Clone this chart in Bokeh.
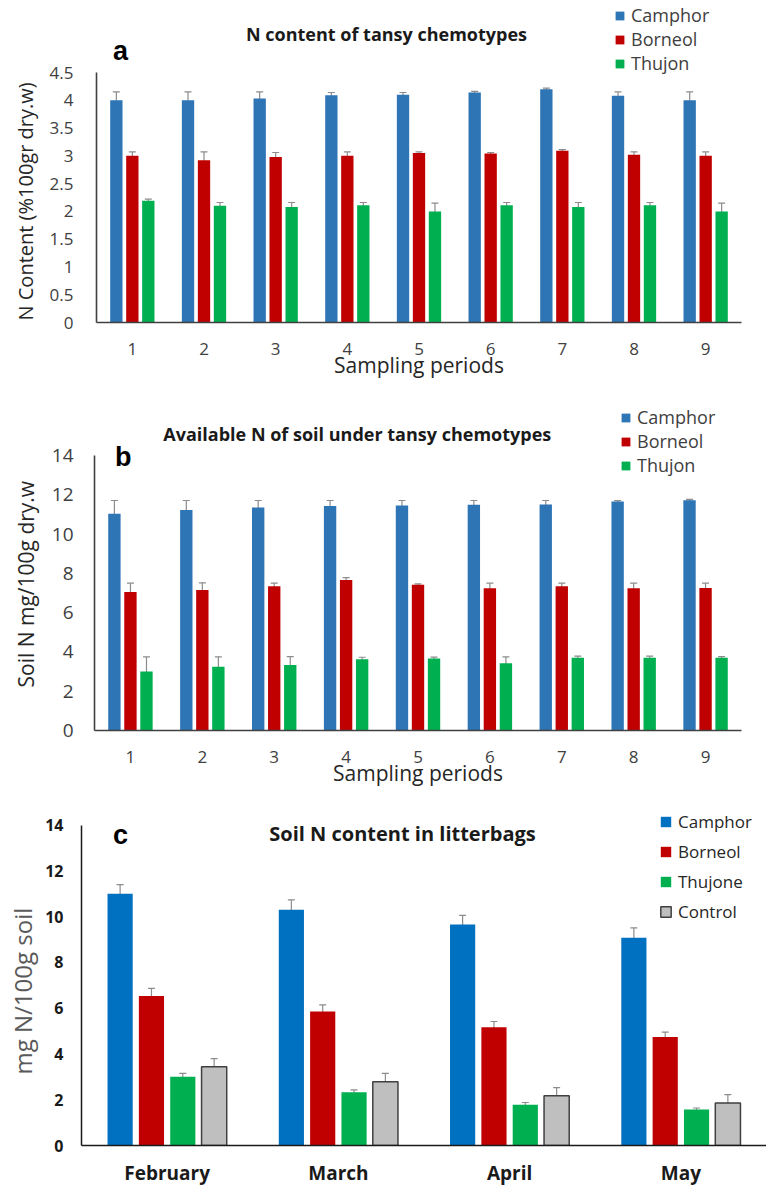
from bokeh.plotting import figure
from bokeh.models import (Range1d, FixedTicker, Whisker, TeeHead, Label, Legend,
                          LegendItem, ColumnDataSource, Title)
from bokeh.transform import dodge
from bokeh.embed import file_html
from bokeh.resources import INLINE

FONT = "Open Sans"

# ---------------- data ----------------
periods = [1, 2, 3, 4, 5, 6, 7, 8, 9]
period_labels = ["1", "2", "3", "4", "5", "6", "7", "8", "9"]
series_ab = ["Camphor", "Borneol", "Thujon"]

# panel a: N content of tansy chemotypes (%100gr dry.w)
a_camphor = [4.00, 4.00, 4.03, 4.09, 4.10, 4.14, 4.20, 4.08, 4.00]
a_camphor_err = [0.15, 0.15, 0.12, 0.05, 0.04, 0.02, 0.02, 0.07, 0.15]
a_borneol = [3.00, 2.92, 2.98, 3.00, 3.05, 3.04, 3.09, 3.02, 3.00]
a_borneol_err = [0.07, 0.15, 0.08, 0.07, 0.02, 0.02, 0.02, 0.05, 0.07]
a_thujon = [2.19, 2.10, 2.08, 2.11, 2.00, 2.11, 2.08, 2.11, 2.00]
a_thujon_err = [0.03, 0.06, 0.08, 0.05, 0.15, 0.05, 0.08, 0.05, 0.15]
a_y_ticks = [0, 0.5, 1, 1.5, 2, 2.5, 3, 3.5, 4, 4.5]
a_y_labels = ["0", "0.5", "1", "1.5", "2", "2.5", "3", "3.5", "4", "4.5"]

# panel b: available N of soil (mg/100g dry.w)
b_camphor = [11.03, 11.23, 11.35, 11.43, 11.46, 11.49, 11.51, 11.66, 11.72]
b_camphor_err = [0.68, 0.48, 0.36, 0.28, 0.25, 0.22, 0.20, 0.05, 0.05]
b_borneol = [7.05, 7.15, 7.34, 7.66, 7.42, 7.24, 7.34, 7.24, 7.25]
b_borneol_err = [0.45, 0.37, 0.16, 0.12, 0.04, 0.26, 0.16, 0.26, 0.25]
b_thujon = [3.00, 3.24, 3.34, 3.63, 3.66, 3.43, 3.71, 3.71, 3.71]
b_thujon_err = [0.75, 0.51, 0.42, 0.10, 0.08, 0.32, 0.08, 0.08, 0.05]
b_y_ticks = [0, 2, 4, 6, 8, 10, 12, 14]
b_y_labels = ["0", "2", "4", "6", "8", "10", "12", "14"]

# panel c: soil N content in litterbags (mg N/100g soil)
months = ["February", "March", "April", "May"]
series_c = ["Camphor", "Borneol", "Thujone", "Control"]
c_camphor = [11.00, 10.31, 9.66, 9.08]
c_camphor_err = [0.40, 0.43, 0.40, 0.43]
c_borneol = [6.54, 5.86, 5.17, 4.74]
c_borneol_err = [0.33, 0.29, 0.25, 0.22]
c_thujone = [3.01, 2.33, 1.78, 1.57]
c_thujone_err = [0.14, 0.10, 0.10, 0.07]
c_control = [3.44, 2.79, 2.17, 1.86]
c_control_err = [0.36, 0.36, 0.36, 0.36]
c_y_ticks = [0, 2, 4, 6, 8, 10, 12, 14]
c_y_labels = ["0", "2", "4", "6", "8", "10", "12", "14"]

# ---------------- styles ----------------
BLUE_AB, BLUE_C = "#2E75B6", "#0070C0"
RED, GREEN = "#C00000", "#00B050"
GREY_FILL, GREY_LINE = "#BFBFBF", "#404040"
ERR = "#8C8C8C"
W = 766


def base_fig(height, xr, yr, left, right, bottom):
    p = figure(width=W, height=height, x_range=xr, y_range=yr,
               output_backend="svg", toolbar_location=None,
               min_border_left=left, min_border_right=right,
               min_border_top=0, min_border_bottom=bottom)
    p.outline_line_color = None
    p.grid.visible = False
    p.border_fill_color = "white"
    p.background_fill_color = "white"
    for ax in p.axis:
        ax.major_tick_out = 0
        ax.major_tick_in = 0
        ax.minor_tick_out = 0
        ax.minor_tick_in = 0
        ax.axis_label_text_font = FONT
        ax.axis_label_text_font_style = "normal"
        ax.major_label_text_font = FONT
    return p


def frame_pos(geo, px, py):
    """image-pixel position -> data coords of a panel (used for annotations only)"""
    l, r, t, b, xs, xe, ys, ye = geo
    x = xs + (px - l) * (xe - xs) / (r - l)
    y = ys + (b - py) * (ye - ys) / (b - t)
    return x, y


def add_bars(p, xs, names, vals, errs, colors, offsets, width, line_colors):
    data = dict(x=xs)
    for n, v, e in zip(names, vals, errs):
        data[n] = v
        data[n + "_hi"] = [a + b for a, b in zip(v, e)]
        data[n + "_lo"] = [a - b for a, b in zip(v, e)]
    src = ColumnDataSource(data)
    items = []
    for n, c, off, lc in zip(names, colors, offsets, line_colors):
        r = p.vbar(x=dodge("x", off, range=p.x_range), top=n, width=width, source=src,
                   fill_color=c, line_color=lc, line_width=1.5 if lc else 0)
        items.append(LegendItem(label=n, renderers=[r]))
    for n, off in zip(names, offsets):
        wk = Whisker(source=src, base=dodge("x", off, range=p.x_range),
                     upper=n + "_hi", lower=n + "_lo", line_color=ERR, line_width=1.2,
                     upper_head=TeeHead(size=7, line_color=ERR, line_width=1.2),
                     lower_head=TeeHead(size=7, line_color=ERR, line_width=1.2))
        p.add_layout(wk)
    return items


def add_legend(p, items, vx, vy, size, gw, gh, spacing, color):
    lg = Legend(items=items, location=(vx, vy), orientation="vertical",
                label_text_font=FONT, label_text_font_size=size, label_text_color=color,
                glyph_width=gw, glyph_height=gh, label_standoff=6, label_height=18,
                spacing=spacing, padding=0, margin=0, border_line_color=None,
                background_fill_alpha=0)
    p.add_layout(lg)


def add_text(p, geo, px, py, text, font, size, style, color):
    x, y = frame_pos(geo, px, py)
    p.add_layout(Label(x=x, y=y, text=text, text_font=font, text_font_size=size,
                       text_font_style=style, text_color=color,
                       text_align="center", text_baseline="middle"))


def add_ytitle(p, text, size, color, offset, standoff):
    t = Title(text=text, align="left", offset=offset, standoff=standoff,
              text_font=FONT, text_font_size=size, text_font_style="normal",
              text_color=color)
    p.add_layout(t, "left")


def style_y(p, yticks, ylabels, bound, size, color, style, stand, axis_color, axis_w):
    p.yaxis.ticker = FixedTicker(ticks=yticks)
    p.yaxis.major_label_overrides = dict(zip(yticks, ylabels))
    p.yaxis.bounds = (0, bound)
    p.yaxis.major_label_text_font_size = size
    p.yaxis.major_label_text_color = color
    p.yaxis.major_label_text_font_style = style
    p.yaxis.major_label_standoff = stand
    for ax in p.axis:
        ax.axis_line_color = axis_color
        ax.axis_line_width = axis_w


def style_x_periods(p):
    p.xaxis.ticker = FixedTicker(ticks=periods)
    p.xaxis.major_label_overrides = dict(zip(periods, period_labels))
    p.xaxis.major_label_text_font_size = "17px"
    p.xaxis.major_label_text_color = "#404040"
    p.xaxis.major_label_standoff = 20
    p.xaxis.axis_label = "Sampling periods"
    p.xaxis.axis_label_text_font_size = "21px"
    p.xaxis.axis_label_text_color = "#262626"
    p.xaxis.axis_label_standoff = -7


# ---------------- panel a ----------------
# figure spans image y 0..385 ; axis frame: left 96, right 741, y=0 at 322, y=4.5 at 72
A_TOP = 4.5 * 322 / (322 - 72)
geo_a = (96, 741, 0, 322, 0.5, 9.5, 0, A_TOP)
pa = base_fig(385, Range1d(0.5, 9.5), Range1d(0, A_TOP), 96, W - 741, 63)
items_a = add_bars(pa, periods, series_ab, [a_camphor, a_borneol, a_thujon],
                   [a_camphor_err, a_borneol_err, a_thujon_err],
                   [BLUE_AB, RED, GREEN], [-0.223, 0.0, 0.223], 0.172, [None] * 3)
style_y(pa, a_y_ticks, a_y_labels, 4.5, "17px", "#404040", "normal", 23, "#404040", 1.6)
style_x_periods(pa)
add_ytitle(pa, "N Content (%100gr dry.w)", "20px", "#262626", 2, 16)
add_legend(pa, items_a, 617 - 96 - 3, 322 - 75, "18px", 11, 11, 0, "#404040")
add_text(pa, geo_a, 386, 33, "N content of tansy chemotypes", FONT, "18px", "bold", "#1a1a1a")
add_text(pa, geo_a, 120, 50, "a", "Liberation Sans", "27px", "bold", "#000000")

# ---------------- panel b ----------------
# figure spans image y 385..793 ; frame: left 91, right 741, y=0 at 730, y=14 at 455
B_TOP = 14 * (730 - 385) / (730 - 455)
geo_b = (91, 741, 385, 730, 0.5, 9.5, 0, B_TOP)
pb = base_fig(408, Range1d(0.5, 9.5), Range1d(0, B_TOP), 91, W - 741, 63)
items_b = add_bars(pb, periods, series_ab, [b_camphor, b_borneol, b_thujon],
                   [b_camphor_err, b_borneol_err, b_thujon_err],
                   [BLUE_AB, RED, GREEN], [-0.223, 0.0, 0.223], 0.172, [None] * 3)
style_y(pb, b_y_ticks, b_y_labels, 14, "19px", "#404040", "normal", 21, "#404040", 1.6)
style_x_periods(pb)
add_ytitle(pb, "Soil N mg/100g dry.w", "21px", "#262626", 43, 18)
add_legend(pb, items_b, 621 - 91 - 4, 730 - 477, "18px", 11, 11, 0, "#404040")
add_text(pb, geo_b, 355, 433, "Available N of soil under tansy chemotypes", FONT, "18px", "bold", "#1a1a1a")
add_text(pb, geo_b, 120, 456, "b", "Liberation Sans", "27px", "bold", "#000000")

# ---------------- panel c ----------------
# figure spans image y 793..1188 ; frame: left 81, right 766, y=0 at 1148, y=14 at 825
month_idx = list(range(len(months)))
C_TOP = 14 * (1148 - 793) / (1148 - 825)
geo_c = (81, 766, 793, 1148, -0.5, len(months) - 0.5, 0, C_TOP)
pc = base_fig(395, Range1d(-0.5, len(months) - 0.5), Range1d(0, C_TOP), 81, 0, 40)
items_c = add_bars(pc, month_idx, series_c, [c_camphor, c_borneol, c_thujone, c_control],
                   [c_camphor_err, c_borneol_err, c_thujone_err, c_control_err],
                   [BLUE_C, RED, GREEN, GREY_FILL], [-0.2745, -0.0915, 0.0915, 0.2745], 0.147,
                   [None, None, None, GREY_LINE])
style_y(pc, c_y_ticks, c_y_labels, 14, "16px", "#1a1a1a", "bold", 18, "#1a1a1a", 1.5)
pc.xaxis.ticker = FixedTicker(ticks=month_idx)
pc.xaxis.major_label_overrides = dict(zip(month_idx, months))
pc.xaxis.major_label_text_font_size = "19px"
pc.xaxis.major_label_text_font_style = "bold"
pc.xaxis.major_label_text_color = "#1a1a1a"
pc.xaxis.major_label_standoff = 14
add_ytitle(pc, "mg N/100g soil", "24px", "#595959", 71, 7)
add_legend(pc, items_c, 659 - 81, 1148 - 926, "17px", 13, 13, 7, "#262626")
add_text(pc, geo_c, 402, 833, "Soil N content in litterbags", FONT, "20px", "bold", "#1a1a1a")
add_text(pc, geo_c, 120, 835, "c", "Liberation Sans", "27px", "bold", "#000000")

open("out.html", "w").write(file_html([pa, pb, pc], INLINE))
